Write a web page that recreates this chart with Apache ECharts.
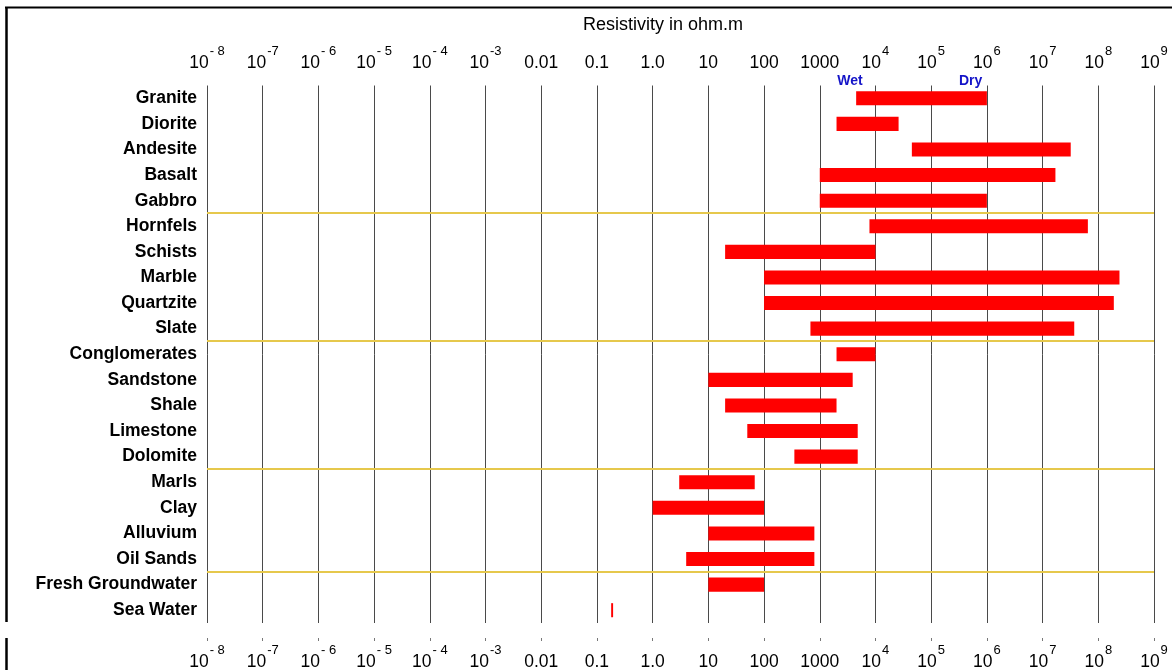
<!DOCTYPE html>
<html>
<head>
<meta charset="utf-8">
<script src="https://cdn.jsdelivr.net/npm/echarts@6/dist/echarts.min.js"></script>
<style>
html,body{margin:0;padding:0;background:#fff;}
#c{width:1172px;height:670px;}
</style>
</head>
<body>
<div id="c"></div>
<script>
// ---- data ----
var rocks = ['Granite','Diorite','Andesite','Basalt','Gabbro','Hornfels','Schists','Marble','Quartzite','Slate',
  'Conglomerates','Sandstone','Shale','Limestone','Dolomite','Marls','Clay','Alluvium','Oil Sands','Fresh Groundwater','Sea Water'];
var lowValues  = [4500, 2000, 45000, 1000, 1000, 7800, 20, 100, 100, 680, 2000, 10, 20, 50, 350, 3, 1, 10, 4, 10, 0.18];
var highValues = [1e6, 26000, 3.2e7, 1.7e7, 1e6, 6.5e7, 10000, 2.4e8, 1.9e8, 3.7e7, 10000, 3900, 2000, 4800, 4800, 68, 100, 800, 800, 100, 0.195];
var tickTexts = {
  '-8':['10','- 8'], '-7':['10','-7'], '-6':['10','- 6'], '-5':['10','- 5'], '-4':['10','- 4'], '-3':['10','-3'],
  '-2':['0.01'], '-1':['0.1'], '0':['1.0'], '1':['10'], '2':['100'], '3':['1000'],
  '4':['10','4'], '5':['10','5'], '6':['10','6'], '7':['10','7'], '8':['10','8'], '9':['10','9']
};
var separatorAfter = [4, 9, 14, 18]; // index of last row in each group
var wetDry = [{text:'Wet', value:3500}, {text:'Dry', value:5.1e5}];
var axisTitle = 'Resistivity in ohm.m';
var axisMin = 1e-8, axisMax = 1e9;

var FONT = 'Liberation Sans, Arial, sans-serif';
function fmt(v){
  var e = Math.round(Math.log10(v));
  var t = tickTexts[String(e)];
  if (!t) return '';
  if (t.length === 1) return '{b|' + t[0] + '}';
  return '{b|' + t[0] + '}{s|' + t[1] + '}';
}
var rich = {
  b: {fontSize: 17.5, fontFamily: FONT, color: '#000', lineHeight: 27.5, verticalAlign: 'bottom'},
  s: {fontSize: 13, fontFamily: FONT, color: '#000', lineHeight: 12, verticalAlign: 'top', padding:[0,0,0,1]}
};

var barData = rocks.map(function(r, i){ return [lowValues[i], highValues[i], i]; });
var sepData = separatorAfter.map(function(k){ return [axisMin, axisMax, k]; });

var chart = echarts.init(document.getElementById('c'), null, {renderer: 'canvas'});
var option = {
  animation: false,
  backgroundColor: '#fff',
  grid: {left: 207, right: 18, top: 85.5, bottom: 47, containLabel: false, outerBoundsMode: 'none'},
  xAxis: [{
    type: 'log', logBase: 10, min: axisMin, max: axisMax, interval: 1, position: 'top',
    axisLine: {show: false}, axisTick: {show: false},
    splitLine: {show: true, lineStyle: {color: '#4a4a4a', width: 1}},
    axisLabel: {formatter: fmt, rich: rich, margin: 13.5}
  }, {
    type: 'log', logBase: 10, min: axisMin, max: axisMax, interval: 1, position: 'bottom', offset: 15,
    axisLine: {show: false},
    axisTick: {show: true, length: 3, lineStyle: {color: '#777', width: 1}},
    splitLine: {show: false},
    axisLabel: {formatter: fmt, rich: rich, margin: 6}
  }],
  yAxis: {
    type: 'category', data: rocks, inverse: true,
    axisLine: {show: false}, axisTick: {show: false},
    axisLabel: {fontSize: 17.5, fontWeight: 'bold', fontFamily: FONT, color: '#000', margin: 10},
    splitLine: {show: false}
  },
  series: [{
    type: 'custom',
    xAxisIndex: 0,
    data: sepData,
    encode: {x: [0, 1], y: 2},
    z: 1,
    renderItem: function(params, api){
      var k = api.value(2);
      var a = api.coord([api.value(0), k]);
      var b = api.coord([api.value(1), k + 1]);
      var y = Math.round((a[1] + b[1]) / 2);
      return {type: 'line', shape: {x1: a[0], y1: y, x2: b[0], y2: y},
        style: {stroke: '#e6c84c', lineWidth: 2}};
    }
  }, {
    type: 'custom',
    xAxisIndex: 0,
    data: barData,
    encode: {x: [0, 1], y: 2},
    z: 2,
    renderItem: function(params, api){
      var cat = api.value(2);
      var p0 = api.coord([api.value(0), cat]);
      var p1 = api.coord([api.value(1), cat]);
      var h = api.size([0, 1])[1] * 0.55;
      return {
        type: 'rect',
        shape: {x: p0[0], y: p0[1] - h / 2, width: Math.max(p1[0] - p0[0], 1.5), height: h},
        style: {fill: '#ff0000'}
      };
    }
  }]
};
chart.setOption(option);

var gfx = [
  {type: 'line', shape: {x1: 5, y1: 7.5, x2: 1172, y2: 7.5}, style: {stroke: '#000', lineWidth: 2}},
  {type: 'line', shape: {x1: 6.5, y1: 7, x2: 6.5, y2: 622}, style: {stroke: '#000', lineWidth: 2.5}},
  {type: 'line', shape: {x1: 6.5, y1: 638, x2: 6.5, y2: 670}, style: {stroke: '#000', lineWidth: 2.5}},
  {type: 'text', style: {text: axisTitle, x: 663, y: 25, font: '18px ' + FONT, fill: '#000',
    textAlign: 'center', textVerticalAlign: 'middle', align: 'center', verticalAlign: 'middle'}}
];
var yTop = chart.convertToPixel({yAxisIndex: 0}, rocks[0]);
wetDry.forEach(function(w){
  var x = chart.convertToPixel({xAxisIndex: 0}, w.value);
  gfx.push({type: 'text', style: {text: w.text, x: x, y: yTop - 17, font: 'bold 14px ' + FONT, fill: '#1414c8',
    textAlign: 'center', textVerticalAlign: 'middle', align: 'center', verticalAlign: 'middle'}});
});
chart.setOption({graphic: {elements: gfx}});
</script>
</body>
</html>
